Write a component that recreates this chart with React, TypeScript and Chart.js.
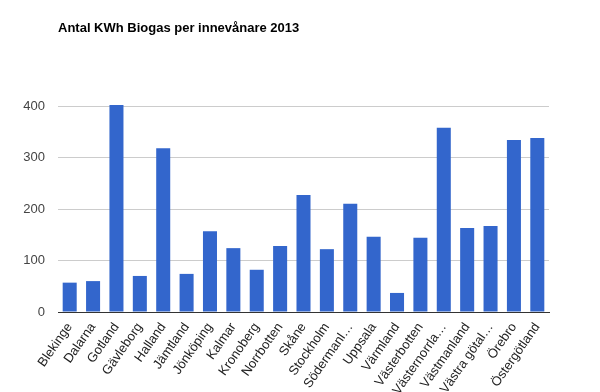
import React, { useEffect, useRef } from "react";
import { Chart, registerables } from "chart.js";

Chart.register(...registerables);

const TITLE = "Antal KWh Biogas per innevånare 2013";
const categories = [
  "Blekinge", "Dalarna", "Gotland", "Gävleborg", "Halland", "Jämtland",
  "Jönköping", "Kalmar", "Kronoberg", "Norrbotten", "Skåne", "Stockholm",
  "Södermanl…", "Uppsala", "Värmland", "Västerbotten", "Västernorrla…",
  "Västmanland", "Västra götal…", "Örebro", "Östergötland",
];
const values = [57, 60, 402, 70, 318, 74, 157, 124, 82, 128, 227, 122, 210, 146, 37, 144, 358, 163, 167, 334, 338];
const yTicks = [0, 100, 200, 300, 400];

const FONT = "'Liberation Sans', Arial, sans-serif";

const titlePlugin = {
  id: "leftTitle",
  afterDraw(chart: any) {
    const ctx = chart.ctx;
    ctx.save();
    ctx.font = `bold 13px ${FONT}`;
    ctx.fillStyle = "#000";
    ctx.textBaseline = "alphabetic";
    ctx.textAlign = "left";
    ctx.fillText(TITLE, chart.chartArea.left, 32);
    ctx.restore();
  },
};

export default function App() {
  const ref = useRef<HTMLCanvasElement>(null);
  useEffect(() => {
    document.body.style.margin = "0";
    const chart = new Chart(ref.current!, {
      type: "bar",
      data: {
        labels: categories,
        datasets: [{ data: values, backgroundColor: "#3366CC", categoryPercentage: 1, barPercentage: 0.6, clip: false } as any],
      },
      options: {
        animation: false,
        responsive: false,
        maintainAspectRatio: false,
        layout: { padding: { left: 0, right: 51, top: 106, bottom: 0 } },
        plugins: { legend: { display: false }, tooltip: { enabled: false }, title: { display: false } },
        scales: {
          x: {
            afterFit: (s: any) => { s.height = 80; },
            grid: { display: false, drawTicks: false },
            border: { display: true, color: "#333", width: 1 },
            ticks: {
              autoSkip: false,
              maxRotation: 55,
              minRotation: 55,
              padding: 8,
              color: "#222",
              font: { family: FONT, size: 13 },
            },
          },
          y: {
            min: 0,
            max: 400,
            afterFit: (s: any) => { s.width = 58; },
            afterBuildTicks: (s: any) => { s.ticks = yTicks.map((v) => ({ value: v })); },
            grid: {
              drawTicks: false,
              color: (c: any) => (c.tick && c.tick.value === 0 ? "rgba(0,0,0,0)" : "#cccccc"),
            },
            border: { display: false },
            ticks: {
              padding: 13,
              color: "#444",
              font: { family: FONT, size: 13 },
            },
          },
        },
      },
      plugins: [titlePlugin],
    });
    return () => chart.destroy();
  }, []);
  return (
    <div style={{ position: "absolute", left: 0, top: 0, width: 600, height: 392 }}>
      <canvas ref={ref} width={600} height={392} style={{ width: 600, height: 392 }} />
    </div>
  );
}
